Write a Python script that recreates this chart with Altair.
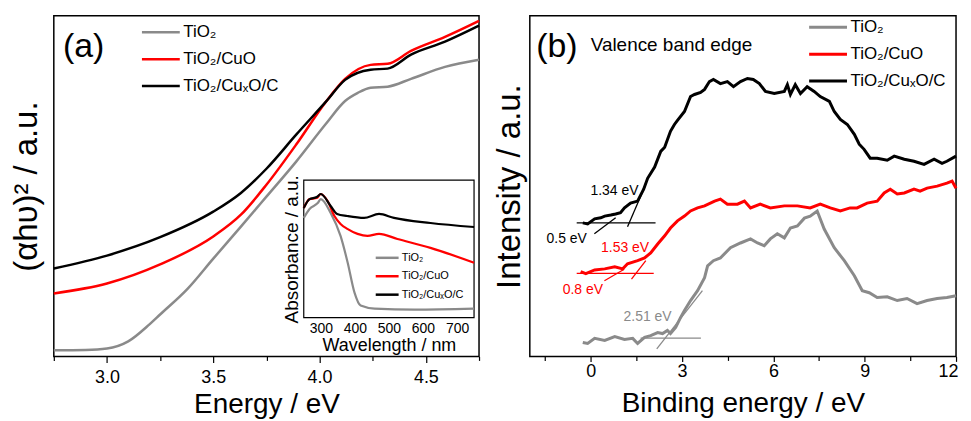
import altair as alt
import pandas as pd

FONT = "Liberation Sans"
SERIES = ["TiO₂", "TiO₂/CuO", "TiO₂/CuₓO/C"]
SERIES_INSET = [s + "\u200b" for s in SERIES]   # distinct domain so the inset keeps its own legend
COLORS = ["#8a8a8a", "#ff0000", "#000000"]
LINE_SYMBOL = "M-2,0H2"

# ---------- Panel (a): (alpha h nu)^2 vs photon energy ----------
E_TIO2 = [2.75, 2.9, 3.0, 3.1, 3.2, 3.25, 3.38, 3.5, 3.63, 3.75, 3.89, 4.03, 4.12, 4.18, 4.24, 4.32, 4.43, 4.59, 4.75]
A_TIO2 = [1.8, 1.9, 2.3, 4.4, 9.4, 12.3, 19.9, 28.7, 38.1, 46.9, 57.2, 68.3, 75.0, 77.4, 78.9, 79.2, 81.5, 85.0, 87.1]
E_CUO = [2.75, 3.0, 3.25, 3.5, 3.63, 3.75, 3.89, 4.03, 4.12, 4.24, 4.32, 4.43, 4.59, 4.75]
A_CUO = [18.5, 21.4, 27.0, 35.2, 41.6, 50.4, 62.2, 74.8, 81.5, 85.6, 85.9, 89.7, 93.8, 98.5]
E_CUXOC = [2.75, 3.0, 3.25, 3.5, 3.63, 3.75, 3.89, 4.03, 4.12, 4.24, 4.32, 4.43, 4.59, 4.75]
A_CUXOC = [25.8, 29.6, 35.0, 42.5, 48.0, 55.1, 65.1, 74.8, 81.2, 84.2, 84.5, 88.6, 92.4, 97.1]

# ---------- Inset: absorbance vs wavelength ----------
W_TIO2 = [250, 267, 291, 300, 329, 358, 379, 399, 417, 458, 575, 750]
B_TIO2 = [72.5, 79.0, 83.3, 86.2, 76.1, 59.4, 39.9, 18.1, 8.7, 6.5, 5.8, 6.5]
W_CUO = [250, 267, 288, 300, 320, 340, 358, 378, 408, 437, 471, 525, 622, 750]
B_CUO = [79.7, 86.2, 87.0, 89.9, 84.8, 73.9, 68.1, 64.5, 60.9, 59.4, 60.9, 57.2, 50.7, 39.9]
W_CUXOC = [250, 267, 288, 300, 329, 348, 378, 427, 471, 515, 622, 750]
B_CUXOC = [79.7, 86.2, 87.7, 89.9, 81.2, 75.4, 73.9, 72.5, 75.4, 72.5, 68.8, 65.9]

# ---------- Panel (b): valence band XPS ----------
BE_TIO2 = [-0.26, -0.10, 0.13, 0.46, 0.79, 1.11, 1.38, 1.54, 1.77, 1.97, 2.20, 2.36, 2.52, 2.62, 2.79, 2.95,
           3.08, 3.28, 3.51, 3.74, 3.84, 4.03, 4.26, 4.59, 4.92, 5.25, 5.48, 5.70, 5.90, 6.13, 6.36, 6.56,
           6.79, 7.02, 7.21, 7.44, 7.67, 8.00, 8.33, 8.66, 8.92, 9.15, 9.41, 9.74, 10.07, 10.39, 10.72,
           11.05, 11.38, 11.70, 12.0]
I_TIO2 = [4.1, 3.8, 5.3, 4.7, 5.8, 5.0, 5.3, 3.8, 5.6, 6.1, 7.0, 6.7, 7.6, 6.7, 8.5, 11.4,
          13.5, 16.4, 19.3, 23.1, 26.6, 28.1, 28.9, 31.9, 33.3, 34.5, 33.3, 32.5, 34.5, 36.0, 34.8, 37.7,
          38.3, 40.6, 41.2, 42.7, 37.4, 31.9, 28.1, 23.7, 19.3, 18.7, 17.3, 17.5, 16.4, 17.0, 15.5,
          16.4, 17.0, 17.3, 17.8]
BE_CUO = [-0.33, -0.16, 0.13, 0.46, 0.79, 1.05, 1.21, 1.54, 1.77, 1.97, 2.20, 2.43, 2.62, 2.85, 3.08,
          3.28, 3.51, 3.74, 4.07, 4.26, 4.49, 4.82, 5.05, 5.25, 5.57, 5.90, 6.36, 6.79, 7.21, 7.54, 7.87,
          8.20, 8.52, 8.75, 9.08, 9.41, 9.64, 9.84, 10.07, 10.30, 10.62, 10.82, 11.05, 11.38, 11.70,
          11.87, 12.0]
I_CUO = [24.9, 24.3, 25.4, 25.7, 26.3, 25.7, 27.2, 28.1, 28.9, 30.4, 33.0, 35.4, 37.7, 39.8, 41.2,
         42.7, 43.6, 44.2, 45.6, 46.2, 44.7, 44.7, 45.6, 43.6, 44.7, 43.6, 44.2, 44.2, 43.6, 44.7, 43.6,
         42.7, 43.6, 43.6, 45.0, 45.6, 48.0, 49.1, 47.7, 48.0, 49.1, 48.5, 49.4, 50.0, 50.9,
         51.5, 49.4]
BE_CUXOC = [-0.26, -0.10, 0.13, 0.33, 0.46, 0.66, 0.82, 0.98, 1.11, 1.31, 1.54, 1.74, 1.87, 2.10, 2.30,
            2.43, 2.62, 2.75, 2.85, 3.08, 3.28, 3.41, 3.61, 3.74, 3.90, 4.03, 4.26, 4.49, 4.69, 4.92,
            5.15, 5.34, 5.54, 5.74, 6.03, 6.36, 6.46, 6.56, 6.72, 6.89, 7.11, 7.34, 7.54, 7.84, 8.00,
            8.20, 8.43, 8.66, 8.82, 8.98, 9.18, 9.41, 9.74, 9.97, 10.30, 10.62, 10.95, 11.28, 11.54,
            11.70, 12.0]
I_CUXOC = [39.2, 38.9, 40.4, 40.7, 41.2, 41.5, 41.8, 42.2, 43.6, 45.0, 45.6, 49.1, 52.3, 55.6, 60.2,
           61.4, 66.1, 68.1, 69.3, 71.9, 76.3, 76.9, 77.5, 78.4, 80.7, 81.3, 80.1, 80.7, 79.2, 80.7,
           81.6, 81.3, 80.1, 77.8, 77.2, 77.8, 79.8, 76.9, 79.8, 77.2, 79.2, 77.8, 76.3, 74.9, 71.9,
           69.6, 68.1, 65.2, 62.3, 60.8, 58.2, 58.2, 57.6, 58.8, 57.9, 57.3, 56.4, 57.9, 56.7,
           57.3, 58.8]

# tangent / baseline segments used for the band-edge construction
TAN_BE = [-0.46, 0.12, 1.21, -0.46, 0.45, 1.34, 1.64, 2.17]
TAN_I = [39.2, 36.0, 38.1, 24.4, 22.2, 22.7, 5.35, 2.2]
TAN_BE2 = [2.13, 0.82, 1.80, 2.07, 1.10, 1.81, 3.62, 3.67]
TAN_I2 = [39.2, 40.7, 50.3, 24.4, 25.6, 28.1, 5.35, 19.3]
TAN_C = ["#000000", "#000000", "#000000", "#ff0000", "#ff0000", "#ff0000", "#8a8a8a", "#8a8a8a"]

# band-edge labels
LBL_TEXT = ["1.34 eV", "0.5 eV", "1.53 eV", "0.8 eV", "2.51 eV"]
LBL_BE = [0.78, -0.79, 1.13, -0.26, 1.87]
LBL_I = [48.7, 34.5, 31.7, 19.6, 11.5]
LBL_C = ["#000000", "#000000", "#ff0000", "#ff0000", "#8a8a8a"]


def long_df(names, xs, ys, xname, yname):
    rows = []
    for i, (s, xv, yv) in enumerate(zip(names, xs, ys)):
        for a, b in zip(xv, yv):
            rows.append({xname: a, yname: b, "S": s, "k": i})
    return pd.DataFrame(rows)


df_a = long_df(SERIES, [E_TIO2, E_CUO, E_CUXOC], [A_TIO2, A_CUO, A_CUXOC], "E", "A")
df_i = long_df(SERIES_INSET, [W_TIO2, W_CUO, W_CUXOC], [B_TIO2, B_CUO, B_CUXOC], "W", "B")
df_b = long_df(SERIES, [BE_TIO2, BE_CUO, BE_CUXOC], [I_TIO2, I_CUO, I_CUXOC], "BE", "I")
df_t = pd.DataFrame({"BE": TAN_BE, "I": TAN_I, "BE2": TAN_BE2, "I2": TAN_I2, "c": TAN_C})
df_l = pd.DataFrame({"BE": LBL_BE, "I": LBL_I, "t": LBL_TEXT, "c": LBL_C})

W_A, H = 427, 342
W_B = 428


def line_legend(x, y, size, width, font_size, label_offset, row_padding):
    return alt.Legend(orient="none", legendX=x, legendY=y, title=None, symbolType=LINE_SYMBOL,
                      symbolSize=size, symbolStrokeWidth=width, labelFontSize=font_size,
                      labelOffset=label_offset, rowPadding=row_padding, padding=0,
                      labelFont=FONT, labelColor="black")


# ---------------- panel (a) ----------------
ticks_a = [2.75, 3.0, 3.25, 3.5, 3.75, 4.0, 4.25, 4.5, 4.75]
axis_a_x = alt.Axis(
    values=ticks_a,
    labelExpr="datum.value % 0.5 === 0 ? format(datum.value, '.1f') : ''",
    tickSize={"condition": {"test": "datum.value % 0.5 === 0", "value": 6}, "value": 4},
    tickWidth=1.2, labelFontSize=18, labelPadding=6, title="Energy / eV",
    titleFontSize=28, titlePadding=4,
)
axis_a_y = alt.Axis(labels=False, ticks=False, title="(αhυ)² / a.u.", titleFontSize=33, titlePadding=10)
x_a = alt.X("E:Q", scale=alt.Scale(domain=[2.75, 4.75], nice=False, zero=False), axis=axis_a_x)
y_a = alt.Y("A:Q", scale=alt.Scale(domain=[0, 100], nice=False, zero=False), axis=axis_a_y)

main_lines = alt.Chart(df_a).mark_line(strokeWidth=2.5, interpolate="monotone").encode(
    x=x_a, y=y_a,
    color=alt.Color("S:N", scale=alt.Scale(domain=SERIES, range=COLORS),
                    legend=line_legend(96.5, 5.5, 361, 2.5, 17, 11.5, 8)),
    order="k:Q",
)
a_label = alt.Chart(pd.DataFrame({"E": [2.89], "A": [90.9], "t": ["(a)"]})).mark_text(
    fontSize=34, font=FONT, color="black").encode(x=x_a, y=y_a, text="t:N")
main_a = alt.layer(main_lines, a_label)

axis_i_x = alt.Axis(orient="bottom", offset=-39, values=[300, 400, 500, 600, 700], ticks=False,
                    labelFontSize=14, labelPadding=4, labelFlush=False, title="Wavelength / nm",
                    titleFontSize=18, titlePadding=1)
axis_i_y = alt.Axis(orient="left", offset=-251, labels=False, ticks=False, title="Absorbance / a.u.",
                    titleFontSize=19, titlePadding=2)
x_i = alt.X("W:Q", scale=alt.Scale(domain=[250, 750], range=[251, 422], nice=False, zero=False), axis=axis_i_x)
y_i = alt.Y("B:Q", scale=alt.Scale(domain=[0, 100], range=[303, 165], nice=False, zero=False), axis=axis_i_y)

frame = alt.Chart(pd.DataFrame({"W": [250], "W2": [750], "B": [0], "B2": [100]})).mark_rect(
    fill="white", stroke="black", strokeWidth=1.2).encode(x=x_i, x2="W2", y=y_i, y2="B2")
inset_lines = alt.Chart(df_i).mark_line(strokeWidth=2.2, interpolate="monotone").encode(
    x=x_i, y=y_i,
    stroke=alt.Stroke("S:N", scale=alt.Scale(domain=SERIES_INSET, range=COLORS),
                      legend=line_legend(327.75, 236, 132, 2.5, 11, 7.75, 6.5)),
    order="k:Q",
)
inset = alt.layer(frame, inset_lines)

panel_a = alt.layer(main_a, inset).resolve_scale(
    x="independent", y="independent").properties(width=W_A, height=H)

# ---------------- panel (b) ----------------
ticks_b = [-1.5, 0, 1.5, 3, 4.5, 6, 7.5, 9, 10.5, 12]
axis_b_x = alt.Axis(
    values=ticks_b,
    labelExpr="datum.value % 3 === 0 ? format(datum.value, 'd') : ''",
    tickSize={"condition": {"test": "datum.value % 3 === 0", "value": 5}, "value": 4},
    tickWidth=1.2, labelFontSize=18, labelPadding=1, labelFlush=True, labelFlushOffset=2,
    title="Binding energy / eV", titleFontSize=28, titlePadding=9,
)
axis_b_y = alt.Axis(labels=False, ticks=False, title="Intensity / a.u.", titleFontSize=33, titlePadding=3)
x_b = alt.X("BE:Q", scale=alt.Scale(domain=[-2, 12], nice=False, zero=False), axis=axis_b_x)
y_b = alt.Y("I:Q", scale=alt.Scale(domain=[0, 100], nice=False, zero=False), axis=axis_b_y)

lines_b = alt.Chart(df_b).mark_line(strokeWidth=3).encode(
    x=x_b, y=y_b,
    color=alt.Color("S:N", scale=alt.Scale(domain=SERIES, range=COLORS),
                    legend=line_legend(288.5, 0.5, 361, 3, 17, 11.5, 8)),
    order="k:Q",
)
layers_b = [lines_b]
for col in ["#000000", "#ff0000", "#8a8a8a"]:
    layers_b.append(
        alt.Chart(df_t).transform_filter(alt.datum.c == col).mark_rule(color=col, strokeWidth=1.3)
        .encode(x=x_b, y=y_b, x2="BE2", y2="I2")
    )
    layers_b.append(
        alt.Chart(df_l).transform_filter(alt.datum.c == col).mark_text(color=col, fontSize=14, font=FONT)
        .encode(x=x_b, y=y_b, text="t:N")
    )
layers_b.append(
    alt.Chart(pd.DataFrame({"BE": [-1.11], "I": [90.9], "t": ["(b)"]})).mark_text(
        fontSize=34, font=FONT, color="black").encode(x=x_b, y=y_b, text="t:N")
)
layers_b.append(
    alt.Chart(pd.DataFrame({"BE": [0.0], "I": [91.5], "t": ["Valence band edge"]})).mark_text(
        fontSize=19, font=FONT, color="black", align="left").encode(x=x_b, y=y_b, text="t:N")
)
panel_b = alt.layer(*layers_b).properties(width=W_B, height=H)

chart = (
    alt.hconcat(panel_a, panel_b, spacing=8)
    .resolve_scale(color="independent", stroke="independent")
    .resolve_legend(color="independent", stroke="independent")
    .properties(padding={"left": 2, "top": 6, "right": 0, "bottom": 0})
    .configure_view(stroke="black", strokeWidth=1.5)
    .configure_axis(grid=False, domain=False, labelFont=FONT, titleFont=FONT, tickColor="black",
                    labelColor="black", titleColor="black", titleFontWeight="normal")
    .configure_legend(labelFont=FONT)
)

chart.save("out.html", embed_options={"renderer": "svg", "actions": False})
